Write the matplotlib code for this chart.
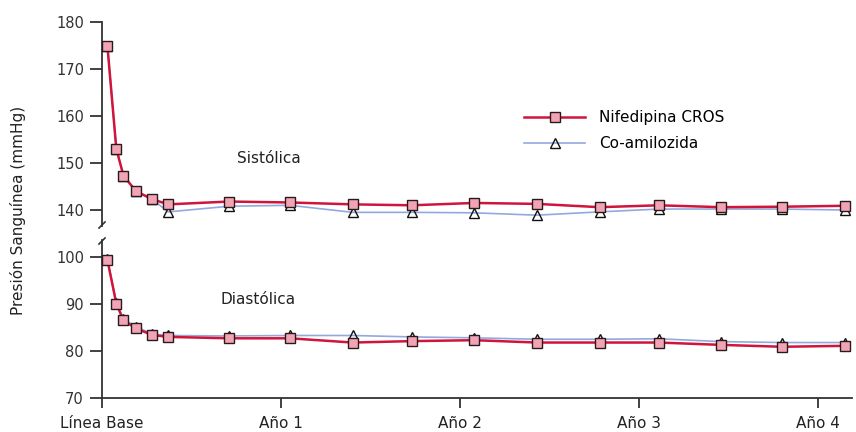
import matplotlib
matplotlib.use("Agg")
import matplotlib.pyplot as plt

# ---- data ----
visits_years = [0.03, 0.08, 0.12, 0.19, 0.28, 0.37, 0.71, 1.05, 1.40, 1.73,
                2.08, 2.43, 2.78, 3.11, 3.46, 3.80, 4.15]
sys_nife = [175, 153, 147.3, 144, 142.3, 141.2, 141.8, 141.6, 141.2, 141.0,
            141.5, 141.3, 140.6, 141.0, 140.6, 140.7, 140.9]
sys_coam = [175, 153, 147.3, 144, 142.3, 139.6, 140.8, 141.0, 139.5, 139.5,
            139.4, 138.9, 139.6, 140.2, 140.2, 140.2, 140.0]
dia_nife = [99.4, 90.1, 86.5, 84.8, 83.4, 83.0, 82.7, 82.7, 81.8, 82.1,
            82.3, 81.8, 81.8, 81.8, 81.3, 80.9, 81.1]
dia_coam = [99.6, 90.3, 86.8, 85.2, 83.6, 83.3, 83.2, 83.3, 83.3, 83.0,
            82.8, 82.5, 82.5, 82.6, 82.0, 81.8, 81.8]
xtick_pos = [0, 1, 2, 3, 4]
xtick_labels = ["Línea Base", "Año 1", "Año 2", "Año 3", "Año 4"]
top_ticks = [140, 150, 160, 170, 180]
bot_ticks = [70, 80, 90, 100]
series_names = ["Nifedipina CROS", "Co-amilozida"]

plt.rcParams['font.family'] = ['DejaVu Sans']

W, H = 856, 432
fig = plt.figure(figsize=(W / 100, H / 100), dpi=100)

left = 102 / W
width = (852 - 102) / W
ppu = 4.7  # pixels per unit
top_lo, top_hi = 136.6, 180
bot_lo, bot_hi = 70, 103.6
top_h = (top_hi - top_lo) * ppu
bot_h = (bot_hi - bot_lo) * ppu
ax_top = fig.add_axes([left, 1 - (22 + top_h) / H, width, top_h / H])
ax_bot = fig.add_axes([left, 1 - 398 / H, width, bot_h / H])

red = "#d0143c"
pink = "#f3a3b6"
edge = "#2a1a1a"
blue = "#93a9dd"
axcol = "#333333"
fs = 11

for ax, ys_n, ys_c in [(ax_top, sys_nife, sys_coam), (ax_bot, dia_nife, dia_coam)]:
    ax.plot(visits_years, ys_c, color=blue, lw=1.2, marker="^", ms=6.5,
            mfc="none", mec="#111111", mew=1.0, zorder=2, label=series_names[1])
    ax.plot(visits_years, ys_n, color=red, lw=1.8, marker="s", ms=7.5,
            mfc=pink, mec=edge, mew=1.0, zorder=3, label=series_names[0])
    ax.set_xlim(0, 4.19)
    for s in ["top", "right"]:
        ax.spines[s].set_visible(False)
    for s in ["left", "bottom"]:
        ax.spines[s].set_color(axcol)
        ax.spines[s].set_linewidth(1.3)
    ax.tick_params(axis="y", direction="out", length=9, width=1.3, pad=4,
                   colors=axcol, labelsize=fs - 0.5, labelcolor="#333333")
    for l in ax.lines:
        l.set_clip_on(False)

ax_top.set_ylim(top_lo, top_hi)
ax_top.set_yticks(top_ticks)
ax_top.spines["bottom"].set_visible(False)
ax_top.tick_params(axis="x", bottom=False, labelbottom=False)

ax_bot.set_ylim(bot_lo, bot_hi)
ax_bot.set_yticks(bot_ticks)
ax_bot.set_xticks(xtick_pos)
ax_bot.set_xticklabels(xtick_labels)
ax_bot.tick_params(axis="x", direction="out", length=7, width=1.3, pad=6,
                   colors=axcol, labelsize=fs, labelcolor="#222222")

# break marks
for yb in [225, 241]:
    yf = 1 - yb / H
    fig.add_artist(plt.Line2D([left - 3 / W, left + 3 / W], [yf - 3 / H, yf + 3 / H],
                              color=axcol, lw=1.2))

# annotations
ax_top.text(0.93, 151, "Sistólica", fontsize=fs, ha="center", va="center", color="#222222")
ax_bot.text(0.87, 90.9, "Diastólica", fontsize=fs, ha="center", va="center", color="#222222")

handles, labels = ax_top.get_legend_handles_labels()
leg = ax_top.legend(handles[::-1], labels[::-1], loc="upper left",
                    bbox_to_anchor=(524 / W, 1 - 110 / H), bbox_transform=fig.transFigure,
                    frameon=False, fontsize=fs, handlelength=4.0, handletextpad=0.9,
                    labelspacing=0.75, borderpad=0, borderaxespad=0)

fig.text(18 / W, 1 - 210 / H, "Presión Sanguínea (mmHg)", rotation=90,
         ha="center", va="center", fontsize=fs, color="#222222")

fig.savefig("out.png", dpi=100)
